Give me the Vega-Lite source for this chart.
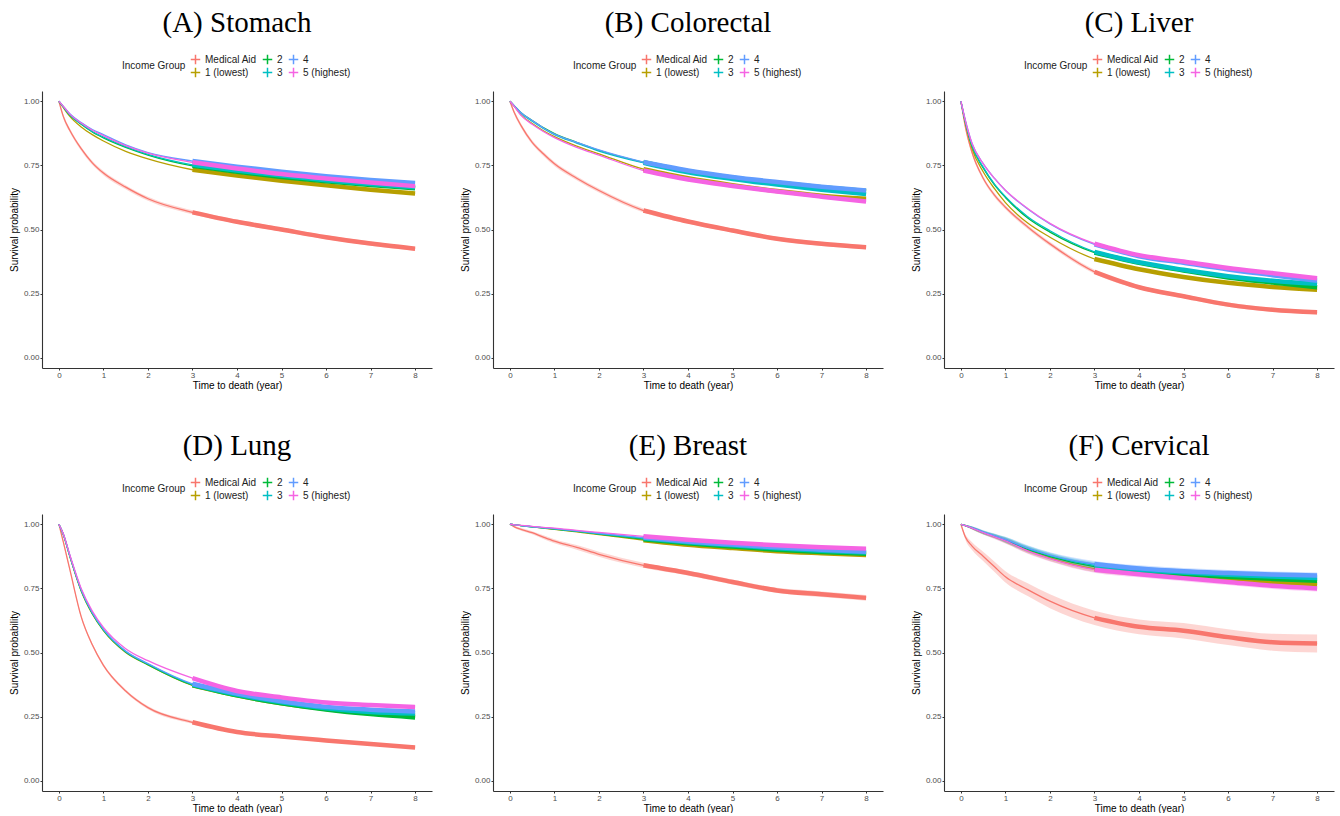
{
"$schema": "https://vega.github.io/schema/vega-lite/v6.json",
"background": "white",
"padding": {"left": 9, "top": 9, "right": 5, "bottom": 0},
"columns": 3,
"spacing": {"row": 42, "column": 28},
"resolve": {"scale": {"color": "independent"}},
"datasets": {"km": [
{"c":"A","g":"Medical Aid","t":0,"s":1,"lo":1,"hi":1},
{"c":"A","g":"Medical Aid","t":0.1,"s":0.94,"lo":0.932,"hi":0.948},
{"c":"A","g":"Medical Aid","t":0.25,"s":0.885,"lo":0.877,"hi":0.893},
{"c":"A","g":"Medical Aid","t":0.5,"s":0.815,"lo":0.807,"hi":0.823},
{"c":"A","g":"Medical Aid","t":0.75,"s":0.76,"lo":0.752,"hi":0.768},
{"c":"A","g":"Medical Aid","t":1,"s":0.72,"lo":0.712,"hi":0.728},
{"c":"A","g":"Medical Aid","t":1.5,"s":0.665,"lo":0.657,"hi":0.673},
{"c":"A","g":"Medical Aid","t":2,"s":0.62,"lo":0.612,"hi":0.628},
{"c":"A","g":"Medical Aid","t":3,"s":0.567,"lo":0.559,"hi":0.575},
{"c":"A","g":"Medical Aid","t":4,"s":0.53,"lo":0.522,"hi":0.538},
{"c":"A","g":"Medical Aid","t":5,"s":0.5,"lo":0.492,"hi":0.508},
{"c":"A","g":"Medical Aid","t":6,"s":0.47,"lo":0.462,"hi":0.478},
{"c":"A","g":"Medical Aid","t":7,"s":0.445,"lo":0.437,"hi":0.453},
{"c":"A","g":"Medical Aid","t":8,"s":0.425,"lo":0.417,"hi":0.433},
{"c":"A","g":"1 (lowest)","t":0,"s":1},{"c":"A","g":"1 (lowest)","t":0.1,"s":0.975},{"c":"A","g":"1 (lowest)","t":0.25,"s":0.94},{"c":"A","g":"1 (lowest)","t":0.5,"s":0.9},{"c":"A","g":"1 (lowest)","t":0.75,"s":0.87},{"c":"A","g":"1 (lowest)","t":1,"s":0.845},{"c":"A","g":"1 (lowest)","t":1.5,"s":0.805},{"c":"A","g":"1 (lowest)","t":2,"s":0.775},{"c":"A","g":"1 (lowest)","t":3,"s":0.733},{"c":"A","g":"1 (lowest)","t":4,"s":0.71},{"c":"A","g":"1 (lowest)","t":5,"s":0.69},{"c":"A","g":"1 (lowest)","t":6,"s":0.672},{"c":"A","g":"1 (lowest)","t":7,"s":0.655},{"c":"A","g":"1 (lowest)","t":8,"s":0.64},
{"c":"A","g":"2","t":0,"s":1},{"c":"A","g":"2","t":0.1,"s":0.978},{"c":"A","g":"2","t":0.25,"s":0.945},{"c":"A","g":"2","t":0.5,"s":0.91},{"c":"A","g":"2","t":0.75,"s":0.88},{"c":"A","g":"2","t":1,"s":0.857},{"c":"A","g":"2","t":1.5,"s":0.82},{"c":"A","g":"2","t":2,"s":0.79},{"c":"A","g":"2","t":3,"s":0.748},{"c":"A","g":"2","t":4,"s":0.725},{"c":"A","g":"2","t":5,"s":0.705},{"c":"A","g":"2","t":6,"s":0.688},{"c":"A","g":"2","t":7,"s":0.673},{"c":"A","g":"2","t":8,"s":0.661},
{"c":"A","g":"3","t":0,"s":1},{"c":"A","g":"3","t":0.1,"s":0.978},{"c":"A","g":"3","t":0.25,"s":0.946},{"c":"A","g":"3","t":0.5,"s":0.912},{"c":"A","g":"3","t":0.75,"s":0.882},{"c":"A","g":"3","t":1,"s":0.86},{"c":"A","g":"3","t":1.5,"s":0.823},{"c":"A","g":"3","t":2,"s":0.793},{"c":"A","g":"3","t":3,"s":0.752},{"c":"A","g":"3","t":4,"s":0.73},{"c":"A","g":"3","t":5,"s":0.71},{"c":"A","g":"3","t":6,"s":0.692},{"c":"A","g":"3","t":7,"s":0.677},{"c":"A","g":"3","t":8,"s":0.665},
{"c":"A","g":"4","t":0,"s":1},{"c":"A","g":"4","t":0.1,"s":0.98},{"c":"A","g":"4","t":0.25,"s":0.95},{"c":"A","g":"4","t":0.5,"s":0.917},{"c":"A","g":"4","t":0.75,"s":0.89},{"c":"A","g":"4","t":1,"s":0.87},{"c":"A","g":"4","t":1.5,"s":0.83},{"c":"A","g":"4","t":2,"s":0.8},{"c":"A","g":"4","t":3,"s":0.767},{"c":"A","g":"4","t":4,"s":0.745},{"c":"A","g":"4","t":5,"s":0.725},{"c":"A","g":"4","t":6,"s":0.708},{"c":"A","g":"4","t":7,"s":0.693},{"c":"A","g":"4","t":8,"s":0.681},
{"c":"A","g":"5 (highest)","t":0,"s":1},{"c":"A","g":"5 (highest)","t":0.1,"s":0.98},{"c":"A","g":"5 (highest)","t":0.25,"s":0.949},{"c":"A","g":"5 (highest)","t":0.5,"s":0.915},{"c":"A","g":"5 (highest)","t":0.75,"s":0.887},{"c":"A","g":"5 (highest)","t":1,"s":0.866},{"c":"A","g":"5 (highest)","t":1.5,"s":0.827},{"c":"A","g":"5 (highest)","t":2,"s":0.798},{"c":"A","g":"5 (highest)","t":3,"s":0.762},{"c":"A","g":"5 (highest)","t":4,"s":0.738},{"c":"A","g":"5 (highest)","t":5,"s":0.716},{"c":"A","g":"5 (highest)","t":6,"s":0.699},{"c":"A","g":"5 (highest)","t":7,"s":0.683},{"c":"A","g":"5 (highest)","t":8,"s":0.669},

{"c":"B","g":"Medical Aid","t":0,"s":1,"lo":1,"hi":1},
{"c":"B","g":"Medical Aid","t":0.1,"s":0.955,"lo":0.947,"hi":0.963},
{"c":"B","g":"Medical Aid","t":0.25,"s":0.905,"lo":0.897,"hi":0.913},
{"c":"B","g":"Medical Aid","t":0.5,"s":0.84,"lo":0.832,"hi":0.848},
{"c":"B","g":"Medical Aid","t":0.75,"s":0.795,"lo":0.787,"hi":0.803},
{"c":"B","g":"Medical Aid","t":1,"s":0.756,"lo":0.748,"hi":0.764},
{"c":"B","g":"Medical Aid","t":1.5,"s":0.7,"lo":0.692,"hi":0.708},
{"c":"B","g":"Medical Aid","t":2,"s":0.652,"lo":0.644,"hi":0.66},
{"c":"B","g":"Medical Aid","t":3,"s":0.574,"lo":0.566,"hi":0.582},
{"c":"B","g":"Medical Aid","t":4,"s":0.531,"lo":0.523,"hi":0.539},
{"c":"B","g":"Medical Aid","t":5,"s":0.496,"lo":0.488,"hi":0.504},
{"c":"B","g":"Medical Aid","t":6,"s":0.464,"lo":0.456,"hi":0.472},
{"c":"B","g":"Medical Aid","t":7,"s":0.444,"lo":0.436,"hi":0.452},
{"c":"B","g":"Medical Aid","t":8,"s":0.431,"lo":0.423,"hi":0.439},
{"c":"B","g":"1 (lowest)","t":0,"s":1},{"c":"B","g":"1 (lowest)","t":0.1,"s":0.98},{"c":"B","g":"1 (lowest)","t":0.25,"s":0.947},{"c":"B","g":"1 (lowest)","t":0.5,"s":0.913},{"c":"B","g":"1 (lowest)","t":0.75,"s":0.885},{"c":"B","g":"1 (lowest)","t":1,"s":0.862},{"c":"B","g":"1 (lowest)","t":1.5,"s":0.825},{"c":"B","g":"1 (lowest)","t":2,"s":0.795},{"c":"B","g":"1 (lowest)","t":3,"s":0.735},{"c":"B","g":"1 (lowest)","t":4,"s":0.7},{"c":"B","g":"1 (lowest)","t":5,"s":0.673},{"c":"B","g":"1 (lowest)","t":6,"s":0.65},{"c":"B","g":"1 (lowest)","t":7,"s":0.632},{"c":"B","g":"1 (lowest)","t":8,"s":0.62},
{"c":"B","g":"2","t":0,"s":1},{"c":"B","g":"2","t":0.1,"s":0.982},{"c":"B","g":"2","t":0.25,"s":0.955},{"c":"B","g":"2","t":0.5,"s":0.925},{"c":"B","g":"2","t":0.75,"s":0.897},{"c":"B","g":"2","t":1,"s":0.874},{"c":"B","g":"2","t":1.5,"s":0.84},{"c":"B","g":"2","t":2,"s":0.809},{"c":"B","g":"2","t":3,"s":0.762},{"c":"B","g":"2","t":4,"s":0.727},{"c":"B","g":"2","t":5,"s":0.702},{"c":"B","g":"2","t":6,"s":0.682},{"c":"B","g":"2","t":7,"s":0.665},{"c":"B","g":"2","t":8,"s":0.65},
{"c":"B","g":"3","t":0,"s":1},{"c":"B","g":"3","t":0.1,"s":0.981},{"c":"B","g":"3","t":0.25,"s":0.953},{"c":"B","g":"3","t":0.5,"s":0.922},{"c":"B","g":"3","t":0.75,"s":0.894},{"c":"B","g":"3","t":1,"s":0.87},{"c":"B","g":"3","t":1.5,"s":0.837},{"c":"B","g":"3","t":2,"s":0.806},{"c":"B","g":"3","t":3,"s":0.76},{"c":"B","g":"3","t":4,"s":0.723},{"c":"B","g":"3","t":5,"s":0.697},{"c":"B","g":"3","t":6,"s":0.675},{"c":"B","g":"3","t":7,"s":0.655},{"c":"B","g":"3","t":8,"s":0.638},
{"c":"B","g":"4","t":0,"s":1},{"c":"B","g":"4","t":0.1,"s":0.982},{"c":"B","g":"4","t":0.25,"s":0.955},{"c":"B","g":"4","t":0.5,"s":0.925},{"c":"B","g":"4","t":0.75,"s":0.896},{"c":"B","g":"4","t":1,"s":0.872},{"c":"B","g":"4","t":1.5,"s":0.84},{"c":"B","g":"4","t":2,"s":0.81},{"c":"B","g":"4","t":3,"s":0.763},{"c":"B","g":"4","t":4,"s":0.73},{"c":"B","g":"4","t":5,"s":0.705},{"c":"B","g":"4","t":6,"s":0.685},{"c":"B","g":"4","t":7,"s":0.667},{"c":"B","g":"4","t":8,"s":0.652},
{"c":"B","g":"5 (highest)","t":0,"s":1},{"c":"B","g":"5 (highest)","t":0.1,"s":0.979},{"c":"B","g":"5 (highest)","t":0.25,"s":0.945},{"c":"B","g":"5 (highest)","t":0.5,"s":0.91},{"c":"B","g":"5 (highest)","t":0.75,"s":0.882},{"c":"B","g":"5 (highest)","t":1,"s":0.858},{"c":"B","g":"5 (highest)","t":1.5,"s":0.82},{"c":"B","g":"5 (highest)","t":2,"s":0.79},{"c":"B","g":"5 (highest)","t":3,"s":0.73},{"c":"B","g":"5 (highest)","t":4,"s":0.695},{"c":"B","g":"5 (highest)","t":5,"s":0.67},{"c":"B","g":"5 (highest)","t":6,"s":0.648},{"c":"B","g":"5 (highest)","t":7,"s":0.628},{"c":"B","g":"5 (highest)","t":8,"s":0.609},

{"c":"C","g":"Medical Aid","t":0,"s":1,"lo":1,"hi":1},
{"c":"C","g":"Medical Aid","t":0.1,"s":0.9,"lo":0.892,"hi":0.908},
{"c":"C","g":"Medical Aid","t":0.25,"s":0.8,"lo":0.792,"hi":0.808},
{"c":"C","g":"Medical Aid","t":0.5,"s":0.7,"lo":0.692,"hi":0.708},
{"c":"C","g":"Medical Aid","t":0.75,"s":0.635,"lo":0.627,"hi":0.643},
{"c":"C","g":"Medical Aid","t":1,"s":0.587,"lo":0.579,"hi":0.595},
{"c":"C","g":"Medical Aid","t":1.5,"s":0.51,"lo":0.502,"hi":0.518},
{"c":"C","g":"Medical Aid","t":2,"s":0.444,"lo":0.436,"hi":0.452},
{"c":"C","g":"Medical Aid","t":3,"s":0.335,"lo":0.327,"hi":0.343},
{"c":"C","g":"Medical Aid","t":4,"s":0.275,"lo":0.267,"hi":0.283},
{"c":"C","g":"Medical Aid","t":5,"s":0.24,"lo":0.232,"hi":0.248},
{"c":"C","g":"Medical Aid","t":6,"s":0.207,"lo":0.199,"hi":0.215},
{"c":"C","g":"Medical Aid","t":7,"s":0.187,"lo":0.179,"hi":0.195},
{"c":"C","g":"Medical Aid","t":8,"s":0.177,"lo":0.169,"hi":0.185},
{"c":"C","g":"1 (lowest)","t":0,"s":1},{"c":"C","g":"1 (lowest)","t":0.1,"s":0.915},{"c":"C","g":"1 (lowest)","t":0.25,"s":0.815},{"c":"C","g":"1 (lowest)","t":0.5,"s":0.725},{"c":"C","g":"1 (lowest)","t":0.75,"s":0.66},{"c":"C","g":"1 (lowest)","t":1,"s":0.605},{"c":"C","g":"1 (lowest)","t":1.5,"s":0.525},{"c":"C","g":"1 (lowest)","t":2,"s":0.47},{"c":"C","g":"1 (lowest)","t":3,"s":0.385},{"c":"C","g":"1 (lowest)","t":4,"s":0.345},{"c":"C","g":"1 (lowest)","t":5,"s":0.315},{"c":"C","g":"1 (lowest)","t":6,"s":0.292},{"c":"C","g":"1 (lowest)","t":7,"s":0.276},{"c":"C","g":"1 (lowest)","t":8,"s":0.265},
{"c":"C","g":"2","t":0,"s":1},{"c":"C","g":"2","t":0.1,"s":0.92},{"c":"C","g":"2","t":0.25,"s":0.825},{"c":"C","g":"2","t":0.5,"s":0.74},{"c":"C","g":"2","t":0.75,"s":0.675},{"c":"C","g":"2","t":1,"s":0.625},{"c":"C","g":"2","t":1.5,"s":0.545},{"c":"C","g":"2","t":2,"s":0.49},{"c":"C","g":"2","t":3,"s":0.41},{"c":"C","g":"2","t":4,"s":0.37},{"c":"C","g":"2","t":5,"s":0.34},{"c":"C","g":"2","t":6,"s":0.313},{"c":"C","g":"2","t":7,"s":0.293},{"c":"C","g":"2","t":8,"s":0.275},
{"c":"C","g":"3","t":0,"s":1},{"c":"C","g":"3","t":0.1,"s":0.92},{"c":"C","g":"3","t":0.25,"s":0.827},{"c":"C","g":"3","t":0.5,"s":0.743},{"c":"C","g":"3","t":0.75,"s":0.678},{"c":"C","g":"3","t":1,"s":0.628},{"c":"C","g":"3","t":1.5,"s":0.55},{"c":"C","g":"3","t":2,"s":0.495},{"c":"C","g":"3","t":3,"s":0.413},{"c":"C","g":"3","t":4,"s":0.372},{"c":"C","g":"3","t":5,"s":0.343},{"c":"C","g":"3","t":6,"s":0.318},{"c":"C","g":"3","t":7,"s":0.3},{"c":"C","g":"3","t":8,"s":0.288},
{"c":"C","g":"4","t":0,"s":1},{"c":"C","g":"4","t":0.1,"s":0.925},{"c":"C","g":"4","t":0.25,"s":0.835},{"c":"C","g":"4","t":0.5,"s":0.757},{"c":"C","g":"4","t":0.75,"s":0.7},{"c":"C","g":"4","t":1,"s":0.652},{"c":"C","g":"4","t":1.5,"s":0.58},{"c":"C","g":"4","t":2,"s":0.522},{"c":"C","g":"4","t":3,"s":0.442},{"c":"C","g":"4","t":4,"s":0.396},{"c":"C","g":"4","t":5,"s":0.37},{"c":"C","g":"4","t":6,"s":0.344},{"c":"C","g":"4","t":7,"s":0.322},{"c":"C","g":"4","t":8,"s":0.3},
{"c":"C","g":"5 (highest)","t":0,"s":1},{"c":"C","g":"5 (highest)","t":0.1,"s":0.925},{"c":"C","g":"5 (highest)","t":0.25,"s":0.835},{"c":"C","g":"5 (highest)","t":0.5,"s":0.757},{"c":"C","g":"5 (highest)","t":0.75,"s":0.7},{"c":"C","g":"5 (highest)","t":1,"s":0.653},{"c":"C","g":"5 (highest)","t":1.5,"s":0.582},{"c":"C","g":"5 (highest)","t":2,"s":0.524},{"c":"C","g":"5 (highest)","t":3,"s":0.445},{"c":"C","g":"5 (highest)","t":4,"s":0.4},{"c":"C","g":"5 (highest)","t":5,"s":0.375},{"c":"C","g":"5 (highest)","t":6,"s":0.35},{"c":"C","g":"5 (highest)","t":7,"s":0.33},{"c":"C","g":"5 (highest)","t":8,"s":0.31},

{"c":"D","g":"Medical Aid","t":0,"s":1,"lo":1,"hi":1},
{"c":"D","g":"Medical Aid","t":0.1,"s":0.93,"lo":0.924,"hi":0.936},
{"c":"D","g":"Medical Aid","t":0.25,"s":0.82,"lo":0.814,"hi":0.826},
{"c":"D","g":"Medical Aid","t":0.5,"s":0.64,"lo":0.634,"hi":0.646},
{"c":"D","g":"Medical Aid","t":0.75,"s":0.53,"lo":0.524,"hi":0.536},
{"c":"D","g":"Medical Aid","t":1,"s":0.45,"lo":0.444,"hi":0.456},
{"c":"D","g":"Medical Aid","t":1.5,"s":0.35,"lo":0.344,"hi":0.356},
{"c":"D","g":"Medical Aid","t":2,"s":0.285,"lo":0.279,"hi":0.291},
{"c":"D","g":"Medical Aid","t":3,"s":0.228,"lo":0.222,"hi":0.234},
{"c":"D","g":"Medical Aid","t":4,"s":0.19,"lo":0.184,"hi":0.196},
{"c":"D","g":"Medical Aid","t":5,"s":0.172,"lo":0.166,"hi":0.178},
{"c":"D","g":"Medical Aid","t":6,"s":0.157,"lo":0.151,"hi":0.163},
{"c":"D","g":"Medical Aid","t":7,"s":0.143,"lo":0.137,"hi":0.149},
{"c":"D","g":"Medical Aid","t":8,"s":0.13,"lo":0.124,"hi":0.136},
{"c":"D","g":"1 (lowest)","t":0,"s":1},{"c":"D","g":"1 (lowest)","t":0.1,"s":0.96},{"c":"D","g":"1 (lowest)","t":0.25,"s":0.872},{"c":"D","g":"1 (lowest)","t":0.5,"s":0.74},{"c":"D","g":"1 (lowest)","t":0.75,"s":0.65},{"c":"D","g":"1 (lowest)","t":1,"s":0.585},{"c":"D","g":"1 (lowest)","t":1.5,"s":0.5},{"c":"D","g":"1 (lowest)","t":2,"s":0.452},{"c":"D","g":"1 (lowest)","t":3,"s":0.372},{"c":"D","g":"1 (lowest)","t":4,"s":0.333},{"c":"D","g":"1 (lowest)","t":5,"s":0.302},{"c":"D","g":"1 (lowest)","t":6,"s":0.28},{"c":"D","g":"1 (lowest)","t":7,"s":0.263},{"c":"D","g":"1 (lowest)","t":8,"s":0.252},
{"c":"D","g":"2","t":0,"s":1},{"c":"D","g":"2","t":0.1,"s":0.96},{"c":"D","g":"2","t":0.25,"s":0.873},{"c":"D","g":"2","t":0.5,"s":0.742},{"c":"D","g":"2","t":0.75,"s":0.652},{"c":"D","g":"2","t":1,"s":0.587},{"c":"D","g":"2","t":1.5,"s":0.502},{"c":"D","g":"2","t":2,"s":0.453},{"c":"D","g":"2","t":3,"s":0.373},{"c":"D","g":"2","t":4,"s":0.333},{"c":"D","g":"2","t":5,"s":0.302},{"c":"D","g":"2","t":6,"s":0.278},{"c":"D","g":"2","t":7,"s":0.26},{"c":"D","g":"2","t":8,"s":0.247},
{"c":"D","g":"3","t":0,"s":1},{"c":"D","g":"3","t":0.1,"s":0.96},{"c":"D","g":"3","t":0.25,"s":0.874},{"c":"D","g":"3","t":0.5,"s":0.744},{"c":"D","g":"3","t":0.75,"s":0.654},{"c":"D","g":"3","t":1,"s":0.589},{"c":"D","g":"3","t":1.5,"s":0.504},{"c":"D","g":"3","t":2,"s":0.455},{"c":"D","g":"3","t":3,"s":0.375},{"c":"D","g":"3","t":4,"s":0.336},{"c":"D","g":"3","t":5,"s":0.306},{"c":"D","g":"3","t":6,"s":0.283},{"c":"D","g":"3","t":7,"s":0.268},{"c":"D","g":"3","t":8,"s":0.262},
{"c":"D","g":"4","t":0,"s":1},{"c":"D","g":"4","t":0.1,"s":0.961},{"c":"D","g":"4","t":0.25,"s":0.876},{"c":"D","g":"4","t":0.5,"s":0.746},{"c":"D","g":"4","t":0.75,"s":0.656},{"c":"D","g":"4","t":1,"s":0.591},{"c":"D","g":"4","t":1.5,"s":0.506},{"c":"D","g":"4","t":2,"s":0.457},{"c":"D","g":"4","t":3,"s":0.378},{"c":"D","g":"4","t":4,"s":0.34},{"c":"D","g":"4","t":5,"s":0.31},{"c":"D","g":"4","t":6,"s":0.288},{"c":"D","g":"4","t":7,"s":0.277},{"c":"D","g":"4","t":8,"s":0.27},
{"c":"D","g":"5 (highest)","t":0,"s":1},{"c":"D","g":"5 (highest)","t":0.1,"s":0.962},{"c":"D","g":"5 (highest)","t":0.25,"s":0.878},{"c":"D","g":"5 (highest)","t":0.5,"s":0.75},{"c":"D","g":"5 (highest)","t":0.75,"s":0.662},{"c":"D","g":"5 (highest)","t":1,"s":0.598},{"c":"D","g":"5 (highest)","t":1.5,"s":0.515},{"c":"D","g":"5 (highest)","t":2,"s":0.468},{"c":"D","g":"5 (highest)","t":3,"s":0.4},{"c":"D","g":"5 (highest)","t":4,"s":0.35},{"c":"D","g":"5 (highest)","t":5,"s":0.325},{"c":"D","g":"5 (highest)","t":6,"s":0.305},{"c":"D","g":"5 (highest)","t":7,"s":0.295},{"c":"D","g":"5 (highest)","t":8,"s":0.287},

{"c":"E","g":"Medical Aid","t":0,"s":1,"lo":1,"hi":1},
{"c":"E","g":"Medical Aid","t":0.1,"s":0.99,"lo":0.986,"hi":0.994},
{"c":"E","g":"Medical Aid","t":0.25,"s":0.98,"lo":0.975,"hi":0.985},
{"c":"E","g":"Medical Aid","t":0.5,"s":0.967,"lo":0.961,"hi":0.973},
{"c":"E","g":"Medical Aid","t":0.75,"s":0.95,"lo":0.943,"hi":0.957},
{"c":"E","g":"Medical Aid","t":1,"s":0.934,"lo":0.926,"hi":0.942},
{"c":"E","g":"Medical Aid","t":1.5,"s":0.91,"lo":0.901,"hi":0.919},
{"c":"E","g":"Medical Aid","t":2,"s":0.883,"lo":0.873,"hi":0.893},
{"c":"E","g":"Medical Aid","t":3,"s":0.84,"lo":0.83,"hi":0.85},
{"c":"E","g":"Medical Aid","t":4,"s":0.81,"lo":0.8,"hi":0.82},
{"c":"E","g":"Medical Aid","t":5,"s":0.775,"lo":0.765,"hi":0.785},
{"c":"E","g":"Medical Aid","t":6,"s":0.742,"lo":0.732,"hi":0.752},
{"c":"E","g":"Medical Aid","t":7,"s":0.727,"lo":0.716,"hi":0.738},
{"c":"E","g":"Medical Aid","t":8,"s":0.713,"lo":0.702,"hi":0.724},
{"c":"E","g":"1 (lowest)","t":0,"s":1},{"c":"E","g":"1 (lowest)","t":0.1,"s":0.998},{"c":"E","g":"1 (lowest)","t":0.25,"s":0.995},{"c":"E","g":"1 (lowest)","t":0.5,"s":0.99},{"c":"E","g":"1 (lowest)","t":0.75,"s":0.985},{"c":"E","g":"1 (lowest)","t":1,"s":0.98},{"c":"E","g":"1 (lowest)","t":1.5,"s":0.97},{"c":"E","g":"1 (lowest)","t":2,"s":0.96},{"c":"E","g":"1 (lowest)","t":3,"s":0.938},{"c":"E","g":"1 (lowest)","t":4,"s":0.92},{"c":"E","g":"1 (lowest)","t":5,"s":0.907},{"c":"E","g":"1 (lowest)","t":6,"s":0.895},{"c":"E","g":"1 (lowest)","t":7,"s":0.887},{"c":"E","g":"1 (lowest)","t":8,"s":0.88},
{"c":"E","g":"2","t":0,"s":1},{"c":"E","g":"2","t":0.1,"s":0.998},{"c":"E","g":"2","t":0.25,"s":0.995},{"c":"E","g":"2","t":0.5,"s":0.99},{"c":"E","g":"2","t":0.75,"s":0.986},{"c":"E","g":"2","t":1,"s":0.981},{"c":"E","g":"2","t":1.5,"s":0.972},{"c":"E","g":"2","t":2,"s":0.962},{"c":"E","g":"2","t":3,"s":0.942},{"c":"E","g":"2","t":4,"s":0.926},{"c":"E","g":"2","t":5,"s":0.913},{"c":"E","g":"2","t":6,"s":0.901},{"c":"E","g":"2","t":7,"s":0.892},{"c":"E","g":"2","t":8,"s":0.885},
{"c":"E","g":"3","t":0,"s":1},{"c":"E","g":"3","t":0.1,"s":0.998},{"c":"E","g":"3","t":0.25,"s":0.995},{"c":"E","g":"3","t":0.5,"s":0.99},{"c":"E","g":"3","t":0.75,"s":0.986},{"c":"E","g":"3","t":1,"s":0.982},{"c":"E","g":"3","t":1.5,"s":0.973},{"c":"E","g":"3","t":2,"s":0.963},{"c":"E","g":"3","t":3,"s":0.945},{"c":"E","g":"3","t":4,"s":0.93},{"c":"E","g":"3","t":5,"s":0.918},{"c":"E","g":"3","t":6,"s":0.906},{"c":"E","g":"3","t":7,"s":0.897},{"c":"E","g":"3","t":8,"s":0.89},
{"c":"E","g":"4","t":0,"s":1},{"c":"E","g":"4","t":0.1,"s":0.998},{"c":"E","g":"4","t":0.25,"s":0.995},{"c":"E","g":"4","t":0.5,"s":0.991},{"c":"E","g":"4","t":0.75,"s":0.987},{"c":"E","g":"4","t":1,"s":0.983},{"c":"E","g":"4","t":1.5,"s":0.974},{"c":"E","g":"4","t":2,"s":0.965},{"c":"E","g":"4","t":3,"s":0.948},{"c":"E","g":"4","t":4,"s":0.933},{"c":"E","g":"4","t":5,"s":0.921},{"c":"E","g":"4","t":6,"s":0.91},{"c":"E","g":"4","t":7,"s":0.901},{"c":"E","g":"4","t":8,"s":0.893},
{"c":"E","g":"5 (highest)","t":0,"s":1},{"c":"E","g":"5 (highest)","t":0.1,"s":0.998},{"c":"E","g":"5 (highest)","t":0.25,"s":0.996},{"c":"E","g":"5 (highest)","t":0.5,"s":0.992},{"c":"E","g":"5 (highest)","t":0.75,"s":0.988},{"c":"E","g":"5 (highest)","t":1,"s":0.985},{"c":"E","g":"5 (highest)","t":1.5,"s":0.976},{"c":"E","g":"5 (highest)","t":2,"s":0.968},{"c":"E","g":"5 (highest)","t":3,"s":0.953},{"c":"E","g":"5 (highest)","t":4,"s":0.94},{"c":"E","g":"5 (highest)","t":5,"s":0.928},{"c":"E","g":"5 (highest)","t":6,"s":0.918},{"c":"E","g":"5 (highest)","t":7,"s":0.91},{"c":"E","g":"5 (highest)","t":8,"s":0.905},

{"c":"F","g":"Medical Aid","t":0,"s":1,"lo":1,"hi":1},
{"c":"F","g":"Medical Aid","t":0.1,"s":0.95,"lo":0.94,"hi":0.96},
{"c":"F","g":"Medical Aid","t":0.25,"s":0.915,"lo":0.9,"hi":0.93},
{"c":"F","g":"Medical Aid","t":0.5,"s":0.875,"lo":0.857,"hi":0.893},
{"c":"F","g":"Medical Aid","t":0.75,"s":0.835,"lo":0.815,"hi":0.855},
{"c":"F","g":"Medical Aid","t":1,"s":0.795,"lo":0.773,"hi":0.817},
{"c":"F","g":"Medical Aid","t":1.5,"s":0.745,"lo":0.72,"hi":0.77},
{"c":"F","g":"Medical Aid","t":2,"s":0.7,"lo":0.673,"hi":0.727},
{"c":"F","g":"Medical Aid","t":3,"s":0.635,"lo":0.607,"hi":0.663},
{"c":"F","g":"Medical Aid","t":4,"s":0.6,"lo":0.571,"hi":0.629},
{"c":"F","g":"Medical Aid","t":5,"s":0.585,"lo":0.555,"hi":0.615},
{"c":"F","g":"Medical Aid","t":6,"s":0.56,"lo":0.529,"hi":0.591},
{"c":"F","g":"Medical Aid","t":7,"s":0.54,"lo":0.507,"hi":0.573},
{"c":"F","g":"Medical Aid","t":8,"s":0.535,"lo":0.5,"hi":0.57},
{"c":"F","g":"1 (lowest)","t":0,"s":1,"lo":1,"hi":1},{"c":"F","g":"1 (lowest)","t":0.1,"s":0.995,"lo":0.992,"hi":0.998},{"c":"F","g":"1 (lowest)","t":0.25,"s":0.985,"lo":0.98,"hi":0.99},{"c":"F","g":"1 (lowest)","t":0.5,"s":0.967,"lo":0.96,"hi":0.974},{"c":"F","g":"1 (lowest)","t":0.75,"s":0.952,"lo":0.944,"hi":0.96},{"c":"F","g":"1 (lowest)","t":1,"s":0.936,"lo":0.926,"hi":0.946},{"c":"F","g":"1 (lowest)","t":1.5,"s":0.898,"lo":0.887,"hi":0.909},{"c":"F","g":"1 (lowest)","t":2,"s":0.868,"lo":0.857,"hi":0.879},{"c":"F","g":"1 (lowest)","t":3,"s":0.826,"lo":0.814,"hi":0.838},{"c":"F","g":"1 (lowest)","t":4,"s":0.81,"lo":0.798,"hi":0.822},{"c":"F","g":"1 (lowest)","t":5,"s":0.795,"lo":0.783,"hi":0.807},{"c":"F","g":"1 (lowest)","t":6,"s":0.783,"lo":0.771,"hi":0.795},{"c":"F","g":"1 (lowest)","t":7,"s":0.773,"lo":0.761,"hi":0.785},{"c":"F","g":"1 (lowest)","t":8,"s":0.765,"lo":0.753,"hi":0.777},
{"c":"F","g":"2","t":0,"s":1,"lo":1,"hi":1},{"c":"F","g":"2","t":0.1,"s":0.995,"lo":0.992,"hi":0.998},{"c":"F","g":"2","t":0.25,"s":0.986,"lo":0.981,"hi":0.991},{"c":"F","g":"2","t":0.5,"s":0.968,"lo":0.961,"hi":0.975},{"c":"F","g":"2","t":0.75,"s":0.954,"lo":0.946,"hi":0.962},{"c":"F","g":"2","t":1,"s":0.938,"lo":0.928,"hi":0.948},{"c":"F","g":"2","t":1.5,"s":0.902,"lo":0.891,"hi":0.913},{"c":"F","g":"2","t":2,"s":0.874,"lo":0.863,"hi":0.885},{"c":"F","g":"2","t":3,"s":0.835,"lo":0.823,"hi":0.847},{"c":"F","g":"2","t":4,"s":0.818,"lo":0.806,"hi":0.83},{"c":"F","g":"2","t":5,"s":0.805,"lo":0.793,"hi":0.817},{"c":"F","g":"2","t":6,"s":0.795,"lo":0.783,"hi":0.807},{"c":"F","g":"2","t":7,"s":0.787,"lo":0.775,"hi":0.799},{"c":"F","g":"2","t":8,"s":0.78,"lo":0.768,"hi":0.792},
{"c":"F","g":"3","t":0,"s":1,"lo":1,"hi":1},{"c":"F","g":"3","t":0.1,"s":0.995,"lo":0.992,"hi":0.998},{"c":"F","g":"3","t":0.25,"s":0.986,"lo":0.981,"hi":0.991},{"c":"F","g":"3","t":0.5,"s":0.969,"lo":0.962,"hi":0.976},{"c":"F","g":"3","t":0.75,"s":0.955,"lo":0.947,"hi":0.963},{"c":"F","g":"3","t":1,"s":0.94,"lo":0.93,"hi":0.95},{"c":"F","g":"3","t":1.5,"s":0.905,"lo":0.894,"hi":0.916},{"c":"F","g":"3","t":2,"s":0.878,"lo":0.867,"hi":0.889},{"c":"F","g":"3","t":3,"s":0.84,"lo":0.828,"hi":0.852},{"c":"F","g":"3","t":4,"s":0.823,"lo":0.811,"hi":0.835},{"c":"F","g":"3","t":5,"s":0.812,"lo":0.8,"hi":0.824},{"c":"F","g":"3","t":6,"s":0.803,"lo":0.791,"hi":0.815},{"c":"F","g":"3","t":7,"s":0.796,"lo":0.784,"hi":0.808},{"c":"F","g":"3","t":8,"s":0.79,"lo":0.778,"hi":0.802},
{"c":"F","g":"4","t":0,"s":1,"lo":1,"hi":1},{"c":"F","g":"4","t":0.1,"s":0.995,"lo":0.992,"hi":0.998},{"c":"F","g":"4","t":0.25,"s":0.987,"lo":0.982,"hi":0.992},{"c":"F","g":"4","t":0.5,"s":0.97,"lo":0.963,"hi":0.977},{"c":"F","g":"4","t":0.75,"s":0.956,"lo":0.948,"hi":0.964},{"c":"F","g":"4","t":1,"s":0.941,"lo":0.931,"hi":0.951},{"c":"F","g":"4","t":1.5,"s":0.907,"lo":0.896,"hi":0.918},{"c":"F","g":"4","t":2,"s":0.88,"lo":0.869,"hi":0.891},{"c":"F","g":"4","t":3,"s":0.845,"lo":0.833,"hi":0.857},{"c":"F","g":"4","t":4,"s":0.828,"lo":0.816,"hi":0.84},{"c":"F","g":"4","t":5,"s":0.817,"lo":0.805,"hi":0.829},{"c":"F","g":"4","t":6,"s":0.81,"lo":0.798,"hi":0.822},{"c":"F","g":"4","t":7,"s":0.804,"lo":0.792,"hi":0.816},{"c":"F","g":"4","t":8,"s":0.8,"lo":0.788,"hi":0.812},
{"c":"F","g":"5 (highest)","t":0,"s":1,"lo":1,"hi":1},{"c":"F","g":"5 (highest)","t":0.1,"s":0.995,"lo":0.992,"hi":0.998},{"c":"F","g":"5 (highest)","t":0.25,"s":0.985,"lo":0.98,"hi":0.99},{"c":"F","g":"5 (highest)","t":0.5,"s":0.967,"lo":0.96,"hi":0.974},{"c":"F","g":"5 (highest)","t":0.75,"s":0.951,"lo":0.943,"hi":0.959},{"c":"F","g":"5 (highest)","t":1,"s":0.935,"lo":0.925,"hi":0.945},{"c":"F","g":"5 (highest)","t":1.5,"s":0.896,"lo":0.885,"hi":0.907},{"c":"F","g":"5 (highest)","t":2,"s":0.866,"lo":0.855,"hi":0.877},{"c":"F","g":"5 (highest)","t":3,"s":0.823,"lo":0.811,"hi":0.835},{"c":"F","g":"5 (highest)","t":4,"s":0.805,"lo":0.793,"hi":0.817},{"c":"F","g":"5 (highest)","t":5,"s":0.79,"lo":0.778,"hi":0.802},{"c":"F","g":"5 (highest)","t":6,"s":0.775,"lo":0.763,"hi":0.787},{"c":"F","g":"5 (highest)","t":7,"s":0.76,"lo":0.748,"hi":0.772},{"c":"F","g":"5 (highest)","t":8,"s":0.75,"lo":0.738,"hi":0.762}
]},
"concat": [
{"title": "(A) Stomach", "width": 390, "height": 277, "data": {"name": "km"}, "transform": [{"filter": "datum.c == 'A'"}],
 "encoding": {"x": {"field": "t", "type": "quantitative", "scale": {"domain": [-0.38, 8.38], "nice": false, "zero": false}, "axis": {"values": [0,1,2,3,4,5,6,7,8], "title": "Time to death (year)"}}},
 "layer": [
  {"mark": {"type": "area", "opacity": 0.3, "interpolate": "monotone"}, "encoding": {"y": {"field": "lo", "type": "quantitative", "scale": {"domain": [-0.04, 1.04], "nice": false}, "axis": {"values": [0,0.25,0.5,0.75,1], "format": ".2f", "title": "Survival probability"}}, "y2": {"field": "hi"}, "fill": {"field": "g", "type": "nominal", "scale": {"domain": ["Medical Aid","2","4","1 (lowest)","3","5 (highest)"], "range": ["#F8766D","#00BA38","#619CFF","#B79F00","#00BFC4","#F564E3"]}, "legend": null}}},
  {"mark": {"type": "line", "strokeWidth": 1.3, "interpolate": "monotone"}, "encoding": {"y": {"field": "s", "type": "quantitative", "title": "Survival probability"}, "color": {"field": "g", "type": "nominal", "scale": {"domain": ["Medical Aid","2","4","1 (lowest)","3","5 (highest)"], "range": ["#F8766D","#00BA38","#619CFF","#B79F00","#00BFC4","#F564E3"]}, "legend": {"title": "Income Group", "orient": "none", "legendX": 80, "legendY": -38}}}},
  {"transform": [{"filter": "datum.t >= 3"}], "mark": {"type": "line", "strokeWidth": 4.5, "interpolate": "monotone"}, "encoding": {"y": {"field": "s", "type": "quantitative"}, "color": {"field": "g", "type": "nominal"}}}
 ]},
{"title": "(B) Colorectal", "width": 390, "height": 277, "data": {"name": "km"}, "transform": [{"filter": "datum.c == 'B'"}],
 "encoding": {"x": {"field": "t", "type": "quantitative", "scale": {"domain": [-0.38, 8.38], "nice": false, "zero": false}, "axis": {"values": [0,1,2,3,4,5,6,7,8], "title": "Time to death (year)"}}},
 "layer": [
  {"mark": {"type": "area", "opacity": 0.3, "interpolate": "monotone"}, "encoding": {"y": {"field": "lo", "type": "quantitative", "scale": {"domain": [-0.04, 1.04], "nice": false}, "axis": {"values": [0,0.25,0.5,0.75,1], "format": ".2f", "title": "Survival probability"}}, "y2": {"field": "hi"}, "fill": {"field": "g", "type": "nominal", "scale": {"domain": ["Medical Aid","2","4","1 (lowest)","3","5 (highest)"], "range": ["#F8766D","#00BA38","#619CFF","#B79F00","#00BFC4","#F564E3"]}, "legend": null}}},
  {"mark": {"type": "line", "strokeWidth": 1.3, "interpolate": "monotone"}, "encoding": {"y": {"field": "s", "type": "quantitative", "title": "Survival probability"}, "color": {"field": "g", "type": "nominal", "scale": {"domain": ["Medical Aid","2","4","1 (lowest)","3","5 (highest)"], "range": ["#F8766D","#00BA38","#619CFF","#B79F00","#00BFC4","#F564E3"]}, "legend": {"title": "Income Group", "orient": "none", "legendX": 80, "legendY": -38}}}},
  {"transform": [{"filter": "datum.t >= 3"}], "mark": {"type": "line", "strokeWidth": 4.5, "interpolate": "monotone"}, "encoding": {"y": {"field": "s", "type": "quantitative"}, "color": {"field": "g", "type": "nominal"}}}
 ]},
{"title": "(C) Liver", "width": 390, "height": 277, "data": {"name": "km"}, "transform": [{"filter": "datum.c == 'C'"}],
 "encoding": {"x": {"field": "t", "type": "quantitative", "scale": {"domain": [-0.38, 8.38], "nice": false, "zero": false}, "axis": {"values": [0,1,2,3,4,5,6,7,8], "title": "Time to death (year)"}}},
 "layer": [
  {"mark": {"type": "area", "opacity": 0.3, "interpolate": "monotone"}, "encoding": {"y": {"field": "lo", "type": "quantitative", "scale": {"domain": [-0.04, 1.04], "nice": false}, "axis": {"values": [0,0.25,0.5,0.75,1], "format": ".2f", "title": "Survival probability"}}, "y2": {"field": "hi"}, "fill": {"field": "g", "type": "nominal", "scale": {"domain": ["Medical Aid","2","4","1 (lowest)","3","5 (highest)"], "range": ["#F8766D","#00BA38","#619CFF","#B79F00","#00BFC4","#F564E3"]}, "legend": null}}},
  {"mark": {"type": "line", "strokeWidth": 1.3, "interpolate": "monotone"}, "encoding": {"y": {"field": "s", "type": "quantitative", "title": "Survival probability"}, "color": {"field": "g", "type": "nominal", "scale": {"domain": ["Medical Aid","2","4","1 (lowest)","3","5 (highest)"], "range": ["#F8766D","#00BA38","#619CFF","#B79F00","#00BFC4","#F564E3"]}, "legend": {"title": "Income Group", "orient": "none", "legendX": 80, "legendY": -38}}}},
  {"transform": [{"filter": "datum.t >= 3"}], "mark": {"type": "line", "strokeWidth": 4.5, "interpolate": "monotone"}, "encoding": {"y": {"field": "s", "type": "quantitative"}, "color": {"field": "g", "type": "nominal"}}}
 ]},
{"title": "(D) Lung", "width": 390, "height": 277, "data": {"name": "km"}, "transform": [{"filter": "datum.c == 'D'"}],
 "encoding": {"x": {"field": "t", "type": "quantitative", "scale": {"domain": [-0.38, 8.38], "nice": false, "zero": false}, "axis": {"values": [0,1,2,3,4,5,6,7,8], "title": "Time to death (year)"}}},
 "layer": [
  {"mark": {"type": "area", "opacity": 0.3, "interpolate": "monotone"}, "encoding": {"y": {"field": "lo", "type": "quantitative", "scale": {"domain": [-0.04, 1.04], "nice": false}, "axis": {"values": [0,0.25,0.5,0.75,1], "format": ".2f", "title": "Survival probability"}}, "y2": {"field": "hi"}, "fill": {"field": "g", "type": "nominal", "scale": {"domain": ["Medical Aid","2","4","1 (lowest)","3","5 (highest)"], "range": ["#F8766D","#00BA38","#619CFF","#B79F00","#00BFC4","#F564E3"]}, "legend": null}}},
  {"mark": {"type": "line", "strokeWidth": 1.3, "interpolate": "monotone"}, "encoding": {"y": {"field": "s", "type": "quantitative", "title": "Survival probability"}, "color": {"field": "g", "type": "nominal", "scale": {"domain": ["Medical Aid","2","4","1 (lowest)","3","5 (highest)"], "range": ["#F8766D","#00BA38","#619CFF","#B79F00","#00BFC4","#F564E3"]}, "legend": {"title": "Income Group", "orient": "none", "legendX": 80, "legendY": -38}}}},
  {"transform": [{"filter": "datum.t >= 3"}], "mark": {"type": "line", "strokeWidth": 4.5, "interpolate": "monotone"}, "encoding": {"y": {"field": "s", "type": "quantitative"}, "color": {"field": "g", "type": "nominal"}}}
 ]},
{"title": "(E) Breast", "width": 390, "height": 277, "data": {"name": "km"}, "transform": [{"filter": "datum.c == 'E'"}],
 "encoding": {"x": {"field": "t", "type": "quantitative", "scale": {"domain": [-0.38, 8.38], "nice": false, "zero": false}, "axis": {"values": [0,1,2,3,4,5,6,7,8], "title": "Time to death (year)"}}},
 "layer": [
  {"mark": {"type": "area", "opacity": 0.3, "interpolate": "monotone"}, "encoding": {"y": {"field": "lo", "type": "quantitative", "scale": {"domain": [-0.04, 1.04], "nice": false}, "axis": {"values": [0,0.25,0.5,0.75,1], "format": ".2f", "title": "Survival probability"}}, "y2": {"field": "hi"}, "fill": {"field": "g", "type": "nominal", "scale": {"domain": ["Medical Aid","2","4","1 (lowest)","3","5 (highest)"], "range": ["#F8766D","#00BA38","#619CFF","#B79F00","#00BFC4","#F564E3"]}, "legend": null}}},
  {"mark": {"type": "line", "strokeWidth": 1.3, "interpolate": "monotone"}, "encoding": {"y": {"field": "s", "type": "quantitative", "title": "Survival probability"}, "color": {"field": "g", "type": "nominal", "scale": {"domain": ["Medical Aid","2","4","1 (lowest)","3","5 (highest)"], "range": ["#F8766D","#00BA38","#619CFF","#B79F00","#00BFC4","#F564E3"]}, "legend": {"title": "Income Group", "orient": "none", "legendX": 80, "legendY": -38}}}},
  {"transform": [{"filter": "datum.t >= 3"}], "mark": {"type": "line", "strokeWidth": 4.5, "interpolate": "monotone"}, "encoding": {"y": {"field": "s", "type": "quantitative"}, "color": {"field": "g", "type": "nominal"}}}
 ]},
{"title": "(F) Cervical", "width": 390, "height": 277, "data": {"name": "km"}, "transform": [{"filter": "datum.c == 'F'"}],
 "encoding": {"x": {"field": "t", "type": "quantitative", "scale": {"domain": [-0.38, 8.38], "nice": false, "zero": false}, "axis": {"values": [0,1,2,3,4,5,6,7,8], "title": "Time to death (year)"}}},
 "layer": [
  {"mark": {"type": "area", "opacity": 0.3, "interpolate": "monotone"}, "encoding": {"y": {"field": "lo", "type": "quantitative", "scale": {"domain": [-0.04, 1.04], "nice": false}, "axis": {"values": [0,0.25,0.5,0.75,1], "format": ".2f", "title": "Survival probability"}}, "y2": {"field": "hi"}, "fill": {"field": "g", "type": "nominal", "scale": {"domain": ["Medical Aid","2","4","1 (lowest)","3","5 (highest)"], "range": ["#F8766D","#00BA38","#619CFF","#B79F00","#00BFC4","#F564E3"]}, "legend": null}}},
  {"mark": {"type": "line", "strokeWidth": 1.3, "interpolate": "monotone"}, "encoding": {"y": {"field": "s", "type": "quantitative", "title": "Survival probability"}, "color": {"field": "g", "type": "nominal", "scale": {"domain": ["Medical Aid","2","4","1 (lowest)","3","5 (highest)"], "range": ["#F8766D","#00BA38","#619CFF","#B79F00","#00BFC4","#F564E3"]}, "legend": {"title": "Income Group", "orient": "none", "legendX": 80, "legendY": -38}}}},
  {"transform": [{"filter": "datum.t >= 3"}], "mark": {"type": "line", "strokeWidth": 4.5, "interpolate": "monotone"}, "encoding": {"y": {"field": "s", "type": "quantitative"}, "color": {"field": "g", "type": "nominal"}}}
 ]}
],
"config": {
 "view": {"stroke": null},
 "font": "Liberation Sans",
 "axis": {"grid": false, "domainColor": "#333333", "domainWidth": 1.1, "tickColor": "#333333", "tickSize": 2, "labelFontSize": 8, "labelColor": "#4d4d4d", "labelPadding": 1, "titleFontSize": 10, "titleFontWeight": "normal", "titleColor": "#000000"},
 "axisX": {"titlePadding": 1},
 "axisY": {"titlePadding": 4},
 "title": {"font": "Liberation Serif", "fontSize": 29, "fontWeight": "normal", "color": "#000000", "frame": "group", "anchor": "middle", "offset": 15},
 "legend": {"direction": "horizontal", "columns": 3, "titleOrient": "left", "titleFontSize": 10, "titleFontWeight": "normal", "titleColor": "#222222", "titlePadding": 4, "labelFontSize": 10, "labelColor": "#222222", "symbolType": "M-1,0H1M0,-1V1", "symbolSize": 90, "symbolStrokeWidth": 1.5, "rowPadding": 0, "clipHeight": 13, "columnPadding": 5, "labelOffset": 4}
}
}
